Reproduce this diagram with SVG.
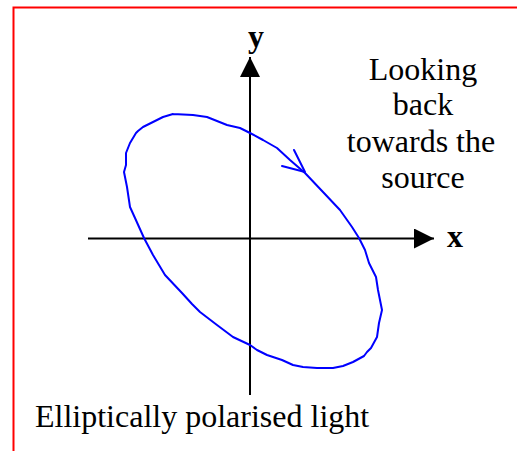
<svg xmlns="http://www.w3.org/2000/svg" width="517" height="451" viewBox="0 0 517 451">
<style>
.t{font-family:"Liberation Serif","Times New Roman",serif;font-size:32px;fill:#000}
.b{font-weight:bold}
.ax{stroke:#000;stroke-width:2;fill:none}
.curve{stroke:#0000ff;stroke-width:2;fill:none;stroke-linejoin:round;stroke-linecap:round}
</style>
<defs>
<marker id="ah" markerWidth="20" markerHeight="20" refX="20" refY="10" orient="auto" markerUnits="userSpaceOnUse">
<path d="M0,0 L20,10 L0,20 Z" fill="#000"/>
</marker>
</defs>
<rect x="13.5" y="7.5" width="600" height="600" fill="#fff" stroke="#ff0000" stroke-width="2"/>
<g id="connectors">
<line id="y-axis" class="ax" x1="250" y1="395" x2="250" y2="57" marker-end="url(#ah)"/>
<line id="x-axis" class="ax" x1="88" y1="238.5" x2="434" y2="238.5" marker-end="url(#ah)"/>
</g>
<g id="ellipse">
<polyline class="curve" points="173,114 193,115 207,117 227,125 240,128 250,133 263,140 277,148 290,160 305,173 323,192 340,210 352,227 359,238 365,250 369,263 376,277 378,290 382,310 379,323 377,337 371,348 367,352 364,356 353,362 343,366 333,368 317,368 303,367 293,365 282,360 267,355 257,350 250,345 233,337 217,325 200,312 192,304 182,293 165,275 153,255 144,238 135,218 130,207 127,187 124,172 126,165 126,153 130,143 136,133 138,131 143,127 153,122 163,117 173,114"/>
<polyline class="curve" points="294,150 305,172 282,166"/>
</g>
<g id="label-y"><text class="t b" x="256" y="47" text-anchor="middle">y</text></g>
<g id="label-x"><text class="t b" x="447" y="247">x</text></g>
<g id="label-looking">
<text class="t" x="423" y="80" text-anchor="middle">Looking</text>
<text class="t" x="423" y="115" text-anchor="middle">back</text>
<text class="t" x="421" y="152" text-anchor="middle">towards the</text>
<text class="t" x="423" y="188" text-anchor="middle">source</text>
</g>
<g id="caption"><text class="t" x="35" y="427">Elliptically polarised light</text></g>
</svg>
